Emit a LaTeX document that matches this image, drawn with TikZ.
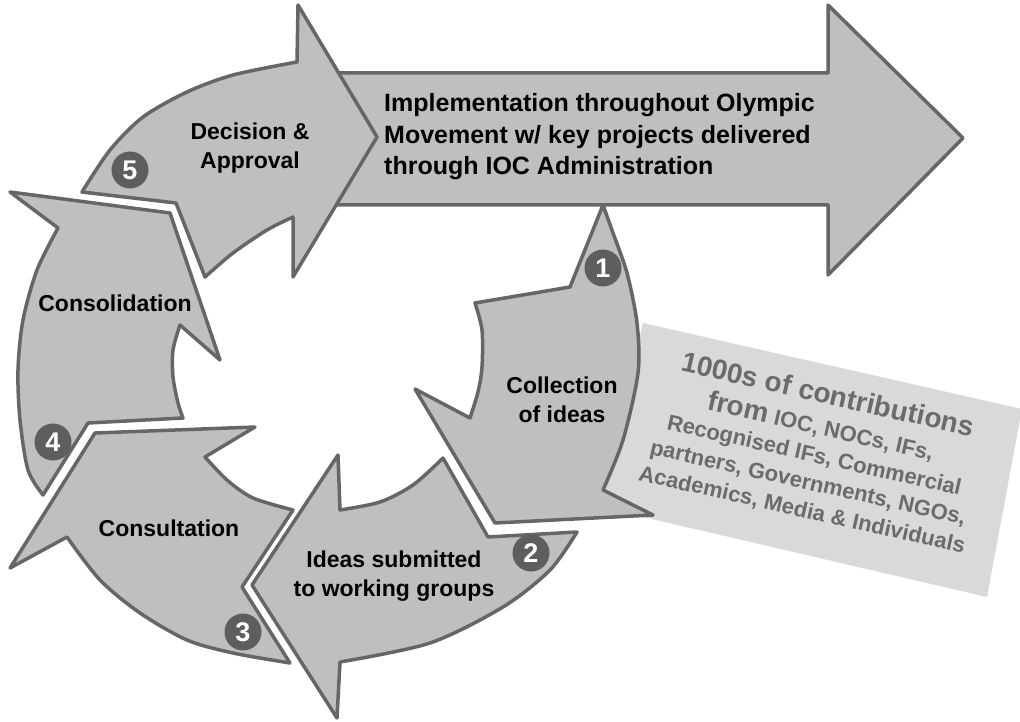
\documentclass[tikz,border=0pt]{standalone}
\usepackage{fontspec}
\setmainfont{Liberation Sans}
\definecolor{arrowfill}{HTML}{BFBFBF}
\definecolor{arrowline}{HTML}{666666}
\definecolor{boxfill}{HTML}{D9D9D9}
\definecolor{boxtext}{HTML}{6B6B6B}
\definecolor{badgefill}{HTML}{5E5E5E}
\tikzset{
  piece/.style={fill=arrowfill,draw=arrowline,line width=3.5pt,line join=round},
  stage/.style={font=\fontsize{23}{29}\selectfont\bfseries,align=center,inner sep=0pt},
  badge/.style={circle,fill=badgefill,minimum size=37pt,inner sep=0pt,text=white,
    font=\fontsize{27}{27}\selectfont\bfseries}
}
\begin{document}
\begin{tikzpicture}[x=1pt,y=-1pt]
\useasboundingbox (0,0) rectangle (1020,722);
% contributions box
\fill[boxfill] (643,323)--(1022,409)--(987,597)--(600,507)--cycle;
% implementation arrow
\draw[piece] (330,73)--(828,73)--(828,5)--(963,138)--(828,275)--(828,205)--(330,205)--cycle;
% 5: decision
\draw[piece] (82,192)--(176,203)--(205,277)
  --plot[smooth] coordinates {(205,277)(233,253)(267,230)(293,217)}
  --(293,277)--(377,137)--(298,5)--(297,62)
  --plot[smooth] coordinates {(297,62)(233,75)(187,92)(143,117)(110,150)(82,192)}--cycle;
% 1: collection
\draw[piece] (603,205)--(570,287)--(475,303)
  --plot[smooth] coordinates {(475,303)(482,330)(482,367)(478,392)(470,418)}
  --(415,389)--(495,523)--(653,515)--(603,490)
  --plot[smooth] coordinates {(603,490)(623,440)(638,373)(637,323)(627,273)(613,233)(603,205)}--cycle;
% 2: ideas
\draw[piece] (252,585)--(338,455)--(340,510)
  --plot[smooth] coordinates {(340,510)(380,502)(413,485)(443,458)}
  --(488,537)--(577,532)
  --plot[smooth] coordinates {(577,532)(550,570)(503,607)(430,643)(340,662)}
  --(337,718)--cycle;
% 3: consultation
\draw[piece] (95,433)--(255,427)--(205,457)
  --plot[smooth] coordinates {(205,457)(227,480)(253,498)(293,510)}
  --(242,587)--(290,663)
  --plot[smooth] coordinates {(290,663)(233,653)(187,640)(140,613)(100,580)(67,537)}
  --(10,568)--cycle;
% 4: consolidation
\draw[piece] (10,192)--(170,213)--(220,360)--(180,325)
  --plot[smooth] coordinates {(180,325)(173,350)(173,377)(178,403)(183,418)}
  --(88,423)--(43,495)
  --plot[smooth] coordinates {(43,495)(28,470)(20,420)(18,370)(23,320)(37,270)(58,228)}--cycle;
% badges
\node[badge] (b1) at (603,268) {1};
\node[badge] (b2) at (531,553) {2};
\node[badge] (b3) at (243,632) {3};
\node[badge] (b4) at (53,442) {4};
\node[badge] (b5) at (130,170) {5};
% labels
\node[stage] (decide) at (250,148) {Decision \&\\Approval};
\node[stage,font=\fontsize{25}{31.5}\selectfont\bfseries,align=left,anchor=west] (implement) at (384,137)
  {Implementation throughout Olympic\\Movement w/ key projects delivered\\through IOC Administration};
\node[stage] (collect) at (562,400) {Collection\\of ideas};
\node[stage] (submit) at (394,576) {Ideas submitted\\to working groups};
\node[stage] (consult) at (169,528) {Consultation};
\node[stage] (consolidate) at (115,303) {Consolidation};
\node[rotate=-12.7,text=boxtext,align=center,inner sep=0pt,
  font=\fontsize{22}{28}\selectfont\bfseries] (contrib) at (815,452)
  {{\fontsize{28}{30}\selectfont 1000s of contributions}\\[4pt]
   {\fontsize{28}{30}\selectfont from} IOC, NOCs, IFs,\\
   Recognised IFs, Commercial\\
   partners, Governments, NGOs,\\
   Academics, Media \& Individuals};
\end{tikzpicture}
\end{document}
